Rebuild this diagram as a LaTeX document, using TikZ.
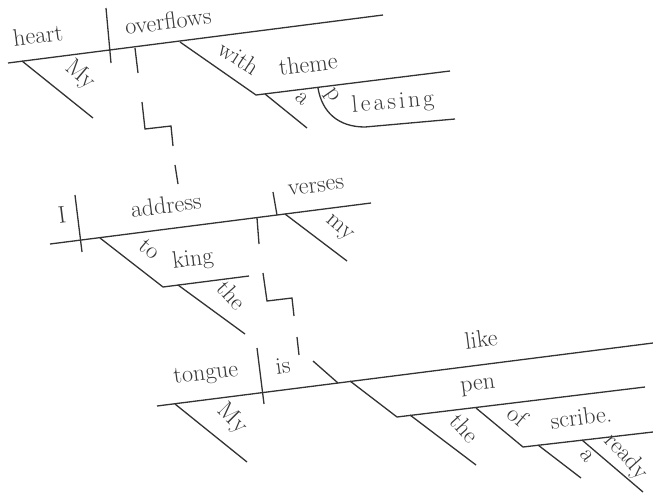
\documentclass[tikz,border=0pt]{standalone}
\usepackage{fontspec}
\begin{document}
\begin{tikzpicture}[x=1pt,y=-1pt,
  ln/.style={draw=black!80,line width=1.3pt},
  wd/.style={text=black!78,font=\fontsize{24}{28}\selectfont,inner sep=0pt},
  hz/.style={wd,rotate=7.2},
  dg/.style={wd,rotate=-40}]
\useasboundingbox (0,0) rectangle (653,496);
% ---------- sentence 1 ----------
\coordinate (b1s) at (8,63); \coordinate (b1e) at (383,15);
\coordinate (d1t) at (106,8); \coordinate (d1b) at (111,63);
\coordinate (my1a) at (22,61); \coordinate (my1b) at (93,118);
\coordinate (w1a) at (180,42); \coordinate (w1b) at (256,95);
\coordinate (th1e) at (450,71);
\coordinate (a1a) at (265,94); \coordinate (a1b) at (307,128);
\coordinate (pl0) at (318,88); \coordinate (pl1) at (365,127); \coordinate (pl2) at (455,119);
\draw[ln] (b1s) -- (b1e);
\draw[ln] (d1t) -- (d1b);
\draw[ln] (my1a) -- (my1b);
\draw[ln] (w1a) -- (w1b) -- (th1e);
\draw[ln] (a1a) -- (a1b);
\draw[ln] (pl0) .. controls (322,112) and (338,127) .. (pl1) -- (pl2);
\node[hz] (heart) at (38,35) {heart};
\node[hz] (overflows) at (168,21) {overflows};
\node[dg] (My1) at (80,75) {My};
\node[wd,rotate=-33] (with) at (239,58) {with};
\node[hz] (theme) at (308,64) {theme};
\node[wd,rotate=-45] (a1) at (302,99) {a};
\node[wd,rotate=-55] (p1) at (331,96) {p};
\node[wd,rotate=5] (leasing) at (393,103) {l\kern3pt e\kern3pt a\kern3pt s\kern3pt i\kern3pt n\kern3pt g};
% connector 1
\coordinate (c1a) at (135,48); \coordinate (c1b) at (138,73);
\coordinate (c1c) at (142,102); \coordinate (c1d) at (145,129);
\coordinate (c1e) at (171,126); \coordinate (c1f) at (173,146);
\coordinate (c1g) at (175,165); \coordinate (c1h) at (178,184);
\draw[ln] (c1a) -- (c1b);
\draw[ln] (c1c) -- (c1d) -- (c1e) -- (c1f);
\draw[ln] (c1g) -- (c1h);
% ---------- sentence 2 ----------
\coordinate (b2s) at (50,244); \coordinate (b2e) at (371,203);
\coordinate (d2t) at (75,195); \coordinate (d2b) at (82,252);
\coordinate (to2a) at (100,238); \coordinate (to2b) at (163,287);
\coordinate (k2e) at (249,276);
\coordinate (the2a) at (178,285); \coordinate (the2b) at (245,334);
\coordinate (o2t) at (273,192); \coordinate (o2b) at (277,215);
\coordinate (my2a) at (285,214); \coordinate (my2b) at (347,261);
\draw[ln] (b2s) -- (b2e);
\draw[ln] (d2t) -- (d2b);
\draw[ln] (to2a) -- (to2b) -- (k2e);
\draw[ln] (the2a) -- (the2b);
\draw[ln] (o2t) -- (o2b);
\draw[ln] (my2a) -- (my2b);
\node[hz] (I) at (62,215) {I};
\node[hz] (address) at (166,205) {address};
\node[dg] (to) at (150,249) {to};
\node[hz] (king) at (193,260) {king};
\node[wd,rotate=-48] (the2) at (232,295) {the};
\node[hz] (verses) at (316,187) {verses};
\node[dg] (my2) at (339,229) {my};
% connector 2
\coordinate (c2a) at (257,218); \coordinate (c2b) at (259,244);
\coordinate (c2c) at (263,273); \coordinate (c2d) at (267,301);
\coordinate (c2e) at (292,298); \coordinate (c2f) at (294,316);
\coordinate (c2g) at (297,337); \coordinate (c2h) at (299,355);
\draw[ln] (c2a) -- (c2b);
\draw[ln] (c2c) -- (c2d) -- (c2e) -- (c2f);
\draw[ln] (c2g) -- (c2h);
% ---------- sentence 3 ----------
\coordinate (b3s) at (157,406); \coordinate (b3e) at (653,343);
\coordinate (d3t) at (257,348); \coordinate (d3b) at (264,404);
\coordinate (my3a) at (175,404); \coordinate (my3b) at (247,462);
\coordinate (bsa) at (313,361); \coordinate (bsb) at (338,383);
\coordinate (lk3a) at (350,381); \coordinate (lk3b) at (397,417);
\coordinate (pen3e) at (645,387);
\coordinate (the3a) at (410,415); \coordinate (the3b) at (476,465);
\coordinate (of3a) at (476,408); \coordinate (of3b) at (523,447);
\coordinate (sc3e) at (653,432);
\coordinate (a3a) at (538,445); \coordinate (a3b) at (581,478);
\coordinate (r3a) at (582,440); \coordinate (r3b) at (643,492);
\draw[ln] (b3s) -- (b3e);
\draw[ln] (d3t) -- (d3b);
\draw[ln] (my3a) -- (my3b);
\draw[ln] (bsa) -- (bsb);
\draw[ln] (lk3a) -- (lk3b) -- (pen3e);
\draw[ln] (the3a) -- (the3b);
\draw[ln] (of3a) -- (of3b) -- (sc3e);
\draw[ln] (a3a) -- (a3b);
\draw[ln] (r3a) -- (r3b);
\node[hz] (tongue) at (206,375) {tongue};
\node[hz] (is) at (283,366) {is};
\node[wd,rotate=-45] (My3) at (232,419) {My};
\node[hz] (like) at (481,339) {like};
\node[hz] (pen) at (478,387) {pen};
\node[wd,rotate=-48] (the3) at (465,428) {the};
\node[dg] (of) at (518,416) {of};
\node[hz] (scribe) at (581,417) {scribe.};
\node[wd,rotate=-55] (a3) at (587,456) {a};
\node[wd,rotate=-48] (ready) at (626,457) {ready};
\end{tikzpicture}
\end{document}
